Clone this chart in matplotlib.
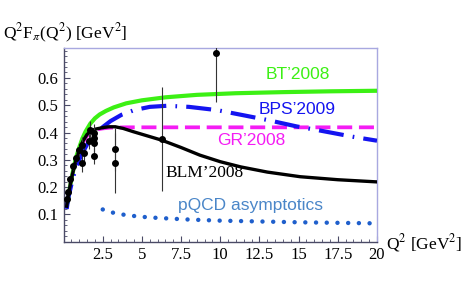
import numpy as np
import matplotlib
matplotlib.use("Agg")
import matplotlib.pyplot as plt
from matplotlib.ticker import MultipleLocator

# curves (Q^2 in GeV^2, Q^2 F_pi in GeV^2)
bt_q2 = [0.25, 0.35, 0.5, 0.7, 0.85, 1.0, 1.2, 1.4, 1.7, 2.0, 2.3, 2.7, 3.2, 4.0, 5.0,
         6.5, 8.5, 11, 14, 17, 20]
bt_val = [0.14, 0.18, 0.23, 0.285, 0.318, 0.345, 0.378, 0.403, 0.432, 0.452, 0.466, 0.479,
          0.492, 0.507, 0.518, 0.529, 0.538, 0.544, 0.548, 0.551, 0.553]

bps_q2 = [0.2, 0.3, 0.5, 0.7, 1.0, 1.25, 1.5, 1.75, 2.0, 2.5, 3.0, 3.7, 4.5, 5.5, 6.6,
          8.0, 9.8, 11.5, 13, 14.9, 16.2, 18.5, 20]
bps_val = [0.12, 0.16, 0.21, 0.255, 0.30, 0.33, 0.356, 0.376, 0.393, 0.42, 0.442, 0.465,
           0.482, 0.494, 0.498, 0.494, 0.482, 0.463, 0.446, 0.422, 0.409, 0.384, 0.37]

gr_q2 = [0.2, 0.3, 0.5, 0.7, 1.0, 1.25, 1.5, 1.75, 2.0, 2.5, 3.0, 4.0, 20]
gr_val = [0.13, 0.17, 0.23, 0.28, 0.33, 0.365, 0.388, 0.402, 0.41, 0.415, 0.418, 0.419, 0.419]

blm_q2 = [0.2, 0.3, 0.5, 0.7, 1.0, 1.25, 1.5, 1.75, 2.0, 2.5, 2.9, 3.3, 3.8, 4.45, 5.5,
          6.26, 7.5, 8.7, 10, 11.3, 13, 15.1, 17.5, 20]
blm_val = [0.13, 0.17, 0.23, 0.28, 0.335, 0.37, 0.393, 0.405, 0.412, 0.418, 0.421, 0.421,
           0.415, 0.403, 0.385, 0.372, 0.345, 0.317, 0.293, 0.274, 0.255, 0.238, 0.227, 0.219]

pqcd_q2 = [2.5, 3.0, 4.0, 5.0, 6.0, 8.0, 10.0, 12.5, 15.0, 17.5, 20.0]
pqcd_val = [0.118, 0.108, 0.097, 0.091, 0.087, 0.081, 0.077, 0.074, 0.071, 0.069, 0.067]

# experimental points
data_q2 = [0.2, 0.27, 0.41, 0.63, 0.78, 1.0, 1.16, 1.16, 1.3, 1.6, 1.69,
           1.97, 1.97, 1.97, 1.97, 3.28, 3.28, 6.26, 9.73]
data_val = [0.155, 0.183, 0.229, 0.278, 0.307, 0.335, 0.354, 0.287, 0.325, 0.37, 0.409,
            0.40, 0.38, 0.36, 0.314, 0.338, 0.29, 0.375, 0.69]
data_err = [0.01, 0.01, 0.01, 0.015, 0.015, 0.02, 0.03, 0.03, 0.03, 0.03, 0.035,
            0.03, 0.03, 0.03, 0.03, 0.08, 0.11, 0.19, 0.18]

green = "#3cf014"
blue = "#1414f0"
magenta = "#f41cf4"
dotblue = "#1f5fcc"

plt.rcParams['mathtext.fontset'] = "stix"
serif = "Liberation Serif"
sans = "Liberation Sans"

fig = plt.figure(figsize=(4.64, 2.87), dpi=100)
ax = fig.add_axes([0.137, 0.158, 0.6755, 0.675])

ax.plot(bt_q2, bt_val, c=green, lw=3.0, solid_capstyle="butt", solid_joinstyle="round", zorder=3)
ax.plot(bps_q2, bps_val, c=blue, lw=3.0, ls=(0, (6, 2.2, 0.4, 2.2)),
        dash_capstyle="butt", zorder=3)
ax.plot(gr_q2, gr_val, c=magenta, lw=2.7, ls=(0, (4, 1.8)), dash_capstyle="butt", zorder=2)
ax.plot(blm_q2, blm_val, c="black", lw=2.4, solid_joinstyle="round", zorder=3)
ax.plot(pqcd_q2, pqcd_val, c=dotblue, lw=3.2, ls=(0, (0.01, 2.4)),
        dash_capstyle="round", zorder=3)

ax.errorbar(data_q2, data_val, yerr=data_err, fmt="o", ms=4, c="black",
            ecolor="#333333", elinewidth=0.8, capsize=0, zorder=4)

ax.text(14.93, 0.611, "BT\u20192008", color=green, fontsize=12.5, family=sans,
        ha="center", va="center")
ax.text(14.93, 0.486, "BPS\u20192009", color=blue, fontsize=12.5, family=sans,
        ha="center", va="center")
ax.text(12.0, 0.372, "GR\u20192008", color=magenta, fontsize=12.5, family=sans,
        ha="center", va="center")
ax.text(9.0, 0.252, "BLM\u20192008", color="black", fontsize=12.5, family=serif,
        ha="center", va="center")
ax.text(11.93, 0.131, "pQCD asymptotics", color="#4a86c8", fontsize=12.5, family=sans,
        ha="center", va="center")

ax.set_xlim(0, 20)
ax.set_ylim(0, 0.71)
ax.set_xticks([2.5, 5, 7.5, 10, 12.5, 15, 17.5, 20])
ax.set_xticklabels(["2.5", "5", "7.5", "10", "12.5", "15", "17.5", "20"])
ax.set_yticks([0.1, 0.2, 0.3, 0.4, 0.5, 0.6])
ax.set_yticklabels(["0.1", "0.2", "0.3", "0.4", "0.5", "0.6"])
ax.xaxis.set_minor_locator(MultipleLocator(0.5))
ax.yaxis.set_minor_locator(MultipleLocator(0.02))

dark = "#4a4a66"
ax.tick_params(which="both", direction="in", colors=dark, labelcolor="black",
               labelsize=12, top=False, right=False)
ax.tick_params(which="major", length=4, width=0.8, pad=4)
ax.tick_params(which="minor", length=2.2, width=0.6)
for lab in ax.get_xticklabels() + ax.get_yticklabels():
    lab.set_family(serif)

for s in ["left", "bottom"]:
    ax.spines[s].set_color(dark)
    ax.spines[s].set_linewidth(1.0)
for s in ["top", "right"]:
    ax.spines[s].set_color("#a8a8e0")
    ax.spines[s].set_linewidth(1.0)

fig.text(0.006, 1 - 33 / 287, r"Q$^2$F$_\pi$(Q$^2$) [GeV$^2$]", fontsize=12.5,
         family=serif, ha="left", va="center")
fig.text(386 / 464, 1 - 243 / 287, r"Q$^2$ [GeV$^2$]", fontsize=12.5,
         family=serif, ha="left", va="center")

fig.savefig("out.png", dpi=100)
